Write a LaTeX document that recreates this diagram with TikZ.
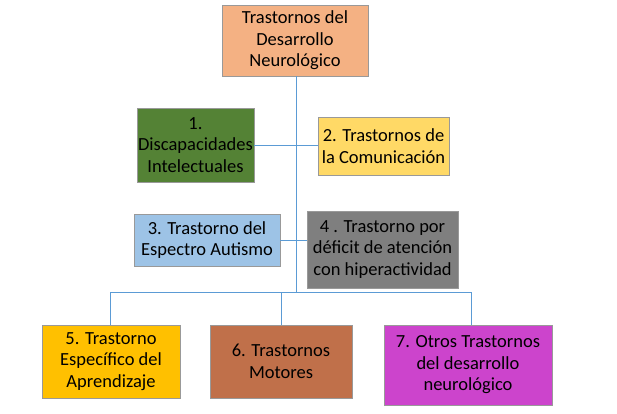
\documentclass[tikz,border=0pt]{standalone}
\usepackage{fontspec}
\setmainfont{Carlito}
\usetikzlibrary{positioning}
\definecolor{linea}{HTML}{5B9BD5}
\tikzset{%
  % Specifications for style of boxes:
  caja/.style = {rectangle, draw=black!40, line width=0.4pt, align=center,
                 inner sep=1pt, font=\fontsize{18.5}{21.5}\selectfont},
  enlace/.style = {draw=linea, line width=0.8pt}
}
\begin{document}
\begin{tikzpicture}[x=1pt, y=-1pt]
  \useasboundingbox (0,0) rectangle (617,414);

  \node[caja, fill={rgb,255:red,244;green,177;blue,131}, minimum width=146pt, minimum height=71pt] (raiz) at (295,40.5) {Trastornos del\\Desarrollo\\Neurológico};

  \node[caja, fill={rgb,255:red,84;green,130;blue,53}, minimum width=115pt, minimum height=74pt] (t1) at (195.5,145) {1.\\Discapacidades\\Intelectuales};
  \node[caja, fill={rgb,255:red,255;green,217;blue,102}, minimum width=131pt, minimum height=58pt] (t2) at (383.5,146) {2. Trastornos de\\la Comunicación};
  \node[caja, fill={rgb,255:red,157;green,195;blue,230}, minimum width=146pt, minimum height=52pt] (t3) at (207,240) {3. Trastorno del\\Espectro Autismo};
  \node[caja, fill={rgb,255:red,127;green,127;blue,127}, minimum width=151pt, minimum height=77pt] (t4) at (382.5,249.5) {4 . Trastorno por\\déficit de atención\\con hiperactividad};

  \node[caja, fill={rgb,255:red,255;green,192;blue,0}, minimum width=138pt, minimum height=73pt] (t5) at (111,361.5) {5. Trastorno\\Específico del\\Aprendizaje};
  \node[caja, fill={rgb,255:red,192;green,112;blue,74}, minimum width=142pt, minimum height=73pt] (t6) at (281,361.5) {6. Trastornos\\Motores};
  \node[caja, fill={rgb,255:red,204;green,68;blue,204}, minimum width=168pt, minimum height=80pt] (t7) at (468,365) {7. Otros Trastornos\\del desarrollo\\neurológico};

  \coordinate (bus) at (296,292);
  \coordinate (busi) at (110,292);
  \coordinate (busd) at (471,292);

  \draw[enlace] (raiz.south -| bus) -- (bus);
  \draw[enlace] (t1.east) -- (t2.west |- t1.east);
  \draw[enlace] (t3.east) -- (t4.west |- t3.east);
  \draw[enlace] (busi) -- (busd);
  \draw[enlace] (busi) -- (t5.north -| busi);
  \draw[enlace] (t6.north |- bus) -- (t6.north);
  \draw[enlace] (busd) -- (t7.north -| busd);
\end{tikzpicture}
\end{document}
